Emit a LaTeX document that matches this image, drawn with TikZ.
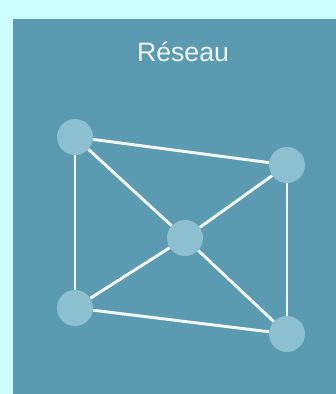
\documentclass[tikz,border=0pt]{standalone}
\usepackage{fontspec}
\setmainfont{Liberation Sans}
\definecolor{outerbg}{HTML}{CCFFFF}
\definecolor{panel}{HTML}{5A9BB1}
\definecolor{nodefill}{HTML}{8CBFCF}
\definecolor{linkcol}{HTML}{F2F8FA}
\definecolor{titlecol}{HTML}{EEF4F6}
\begin{document}
\begin{tikzpicture}[x=0.75pt,y=-0.75pt,
  vertex/.style={circle,fill=nodefill,minimum size=27pt,inner sep=0pt},
  link/.style={draw=linkcol,line width=2.2pt}]
\useasboundingbox (0,0) rectangle (336,394);
\fill[outerbg] (0,0) rectangle (336,394);
\fill[panel] (13,19) rectangle (336,394);
\node[text=titlecol,font=\fontsize{20}{24}\selectfont,anchor=base] (title) at (183,61) {Réseau};
\node[vertex] (tl) at (75,137) {};
\node[vertex] (tr) at (287,165) {};
\node[vertex] (c) at (185,238) {};
\node[vertex] (bl) at (75,308) {};
\node[vertex] (br) at (287,334) {};
\path[link] (tl) -- (tr);
\path[link] (tl) -- (c);
\path[link] (tl.south) -- (bl.north);
\path[link] (tr.south) -- (br.north);
\path[link] (tr) -- (c);
\path[link] (c) -- (bl);
\path[link] (c) -- (br);
\path[link] (bl) -- (br);
\end{tikzpicture}
\end{document}
